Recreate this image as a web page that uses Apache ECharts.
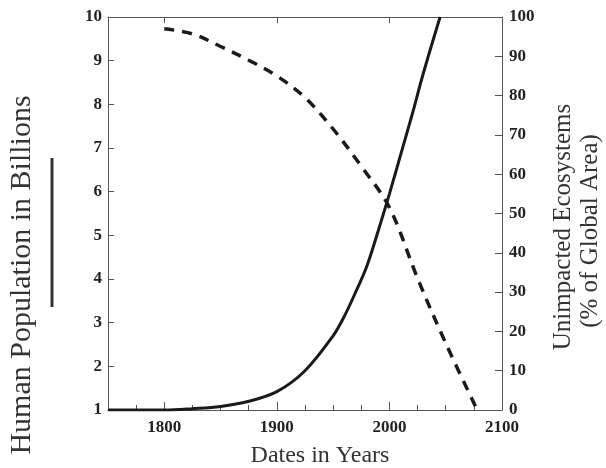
<!DOCTYPE html>
<html>
<head>
<meta charset="utf-8">
<script src="https://cdn.jsdelivr.net/npm/echarts@6/dist/echarts.min.js"></script>
<style>
  html, body { margin: 0; padding: 0; background: #fff; }
  #chart { width: 606px; height: 468px; }
</style>
</head>
<body>
<div id="chart"></div>
<script>
// human population (billions)
const popYears = [1750, 1800, 1825, 1850, 1875, 1900, 1925, 1950, 1960, 1970, 1980, 1990, 2000, 2010, 2020, 2030, 2045]
const popValues = [1.0, 1.0, 1.03, 1.08, 1.2, 1.42, 1.9, 2.7, 3.15, 3.7, 4.3, 5.1, 5.95, 6.85, 7.75, 8.7, 10]

// unimpacted ecosystems (% of global area)
const ecoYears = [1800, 1825, 1850, 1875, 1900, 1925, 1950, 1975, 2000, 2025, 2050, 2078]
const ecoValues = [97, 95.7, 92.5, 89, 85, 79.5, 71.5, 62, 51.5, 33.5, 17, 0]

// x axis ticks and labels
const xLabels = [1800, 1900, 2000, 2100]
const xMajorTicks = [1800, 1900, 2000]
const xMinorTicks = [1775, 1825, 1850, 1875, 1925, 1950, 1975, 2025, 2050, 2075]

const serif = 'Liberation Serif'
const axisColor = '#555'

const myEchart = echarts.init(document.getElementById('chart'))

const tickLabel = {
  fontFamily: serif,
  fontWeight: 'bold',
  fontSize: 17,
  color: '#222'
}

const option = {
  animation: false,
  grid: { left: 108, right: 104, top: 17, bottom: 58 },
  xAxis: [
    {
      type: 'value',
      position: 'bottom',
      min: 1750,
      max: 2100,
      axisLine: { show: true, lineStyle: { color: axisColor, width: 1 } },
      axisTick: { show: true, inside: true, length: 5, customValues: xMinorTicks, lineStyle: { color: axisColor } },
      axisLabel: { ...tickLabel, margin: 9, customValues: xLabels, formatter: v => String(v) },
      splitLine: { show: false }
    },
    {
      type: 'value',
      position: 'bottom',
      min: 1750,
      max: 2100,
      axisLine: { show: false },
      axisTick: { show: true, inside: true, length: 8, customValues: xMajorTicks, lineStyle: { color: axisColor } },
      axisLabel: { show: false },
      splitLine: { show: false }
    },
    {
      type: 'value',
      position: 'top',
      min: 1750,
      max: 2100,
      axisLine: { show: true, lineStyle: { color: axisColor, width: 1 } },
      axisTick: { show: true, inside: true, length: 6, customValues: xMajorTicks, lineStyle: { color: axisColor } },
      axisLabel: { show: false },
      splitLine: { show: false }
    }
  ],
  yAxis: [
    {
      type: 'value',
      position: 'left',
      min: 1,
      max: 10,
      interval: 1,
      axisLine: { show: true, lineStyle: { color: axisColor, width: 1 } },
      axisTick: { show: true, inside: true, length: 6, lineStyle: { color: axisColor } },
      axisLabel: { ...tickLabel, margin: 6 },
      splitLine: { show: false }
    },
    {
      type: 'value',
      position: 'right',
      min: 0,
      max: 100,
      interval: 10,
      axisLine: { show: true, lineStyle: { color: axisColor, width: 1 } },
      axisTick: { show: true, inside: true, length: 7, lineStyle: { color: axisColor } },
      axisLabel: { ...tickLabel, margin: 7 },
      splitLine: { show: false }
    }
  ],
  series: [
    {
      name: 'population',
      type: 'line',
      xAxisIndex: 0,
      yAxisIndex: 0,
      smooth: 0.35,
      showSymbol: false,
      lineStyle: { color: '#1a1a1a', width: 3 },
      data: popYears.map((y, i) => [y, popValues[i]])
    },
    {
      name: 'ecosystems',
      type: 'line',
      xAxisIndex: 0,
      yAxisIndex: 1,
      smooth: 0.35,
      showSymbol: false,
      lineStyle: { color: '#1a1a1a', width: 3.5, type: [10, 8], cap: 'butt' },
      data: ecoYears.map((y, i) => [y, ecoValues[i]])
    }
  ],
  graphic: [
    {
      type: 'text',
      x: 22,
      y: 275,
      rotation: Math.PI / 2,
      style: {
        text: 'Human Population in Billions',
        fontFamily: serif,
        fontSize: 30,
        fill: '#333',
        align: 'center',
        verticalAlign: 'middle'
      }
    },
    {
      type: 'line',
      shape: { x1: 52, y1: 158, x2: 52, y2: 307 },
      style: { stroke: '#333', lineWidth: 3 }
    },
    {
      type: 'text',
      x: 563,
      y: 227,
      rotation: Math.PI / 2,
      style: {
        text: 'Unimpacted Ecosystems',
        fontFamily: serif,
        fontSize: 25,
        fill: '#333',
        align: 'center',
        verticalAlign: 'middle'
      }
    },
    {
      type: 'text',
      x: 590,
      y: 231,
      rotation: Math.PI / 2,
      style: {
        text: '(% of Global Area)',
        fontFamily: serif,
        fontSize: 25,
        fill: '#333',
        align: 'center',
        verticalAlign: 'middle'
      }
    },
    {
      type: 'text',
      x: 320,
      y: 456,
      style: {
        text: 'Dates in Years',
        fontFamily: serif,
        fontSize: 24,
        fill: '#333',
        align: 'center',
        verticalAlign: 'middle'
      }
    }
  ]
}

myEchart.setOption(option)
</script>
</body>
</html>
